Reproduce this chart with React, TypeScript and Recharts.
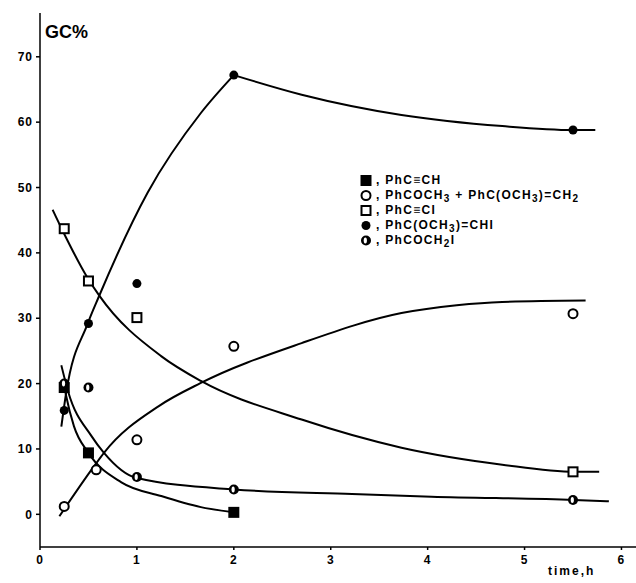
import React from 'react';
import { ComposedChart, Line, Scatter, XAxis, YAxis } from 'recharts';

// measured points (time h, GC %)
const alkynePts = [
  { t: 0.25, v: 19.4 },
  { t: 0.5, v: 9.4 },
  { t: 2, v: 0.3 },
];
const ketonePts = [
  { t: 0.25, v: 1.2 },
  { t: 0.58, v: 6.8 },
  { t: 1, v: 11.4 },
  { t: 2, v: 25.7 },
  { t: 5.5, v: 30.7 },
];
const iodoalkynePts = [
  { t: 0.25, v: 43.7 },
  { t: 0.5, v: 35.7 },
  { t: 1, v: 30.1 },
  { t: 5.5, v: 6.5 },
];
const vinylPts = [
  { t: 0.25, v: 15.9 },
  { t: 0.5, v: 29.2 },
  { t: 1, v: 35.3 },
  { t: 2, v: 67.2 },
  { t: 5.5, v: 58.8 },
];
const iodoketonePts = [
  { t: 0.25, v: 20 },
  { t: 0.5, v: 19.4 },
  { t: 1, v: 5.7 },
  { t: 2, v: 3.8 },
  { t: 5.5, v: 2.2 },
];

// hand-drawn fitted curves
const alkyneCurve = [
  { t: 0.24, v: 20.5 },
  { t: 0.27, v: 18.1 },
  { t: 0.35, v: 13.5 },
  { t: 0.5, v: 9.4 },
  { t: 0.84, v: 4.9 },
  { t: 1.25, v: 2.8 },
  { t: 1.66, v: 1.1 },
  { t: 2.0, v: 0.3 },
];
const ketoneCurve = [
  { t: 0.2, v: -0.3 },
  { t: 0.56, v: 7.4 },
  { t: 0.66, v: 9.4 },
  { t: 1.23, v: 16.6 },
  { t: 1.66, v: 20.1 },
  { t: 2.7, v: 26.2 },
  { t: 3.73, v: 30.8 },
  { t: 4.3, v: 32.0 },
  { t: 4.77, v: 32.5 },
  { t: 5.63, v: 32.7 },
];
const iodoalkyneCurve = [
  { t: 0.13, v: 46.6 },
  { t: 0.24, v: 43.2 },
  { t: 0.49, v: 36.2 },
  { t: 0.61, v: 33.5 },
  { t: 1.25, v: 24.2 },
  { t: 1.66, v: 20.4 },
  { t: 2.7, v: 14.5 },
  { t: 3.73, v: 10.2 },
  { t: 4.77, v: 7.6 },
  { t: 5.52, v: 6.5 },
  { t: 5.77, v: 6.5 },
];
const vinylRise = [
  { t: 0.22, v: 13.4 },
  { t: 0.27, v: 18.6 },
  { t: 0.49, v: 29.1 },
  { t: 0.61, v: 33.4 },
  { t: 1.11, v: 49.2 },
  { t: 1.66, v: 61.4 },
  { t: 2.0, v: 67.2 },
];
const vinylFall = [
  { t: 2.0, v: 67.2 },
  { t: 2.7, v: 64.2 },
  { t: 3.73, v: 61.1 },
  { t: 4.77, v: 59.4 },
  { t: 5.5, v: 58.8 },
  { t: 5.73, v: 58.8 },
];
const iodoketoneCurve = [
  { t: 0.22, v: 22.8 },
  { t: 0.29, v: 18.8 },
  { t: 0.53, v: 12.0 },
  { t: 0.66, v: 9.4 },
  { t: 0.99, v: 5.6 },
  { t: 2.0, v: 3.8 },
  { t: 3.22, v: 3.1 },
  { t: 4.04, v: 2.7 },
  { t: 5.51, v: 2.2 },
  { t: 5.87, v: 2.0 },
];

const xTicks = [0, 1, 2, 3, 4, 5, 6];
const yTicks = [0, 10, 20, 30, 40, 50, 60, 70];

const tickStyle = { fill: '#000', fontSize: 12, fontWeight: 700, fontFamily: 'Liberation Sans, Arial, sans-serif', letterSpacing: 1 };

const Marker = ({ cx, cy, kind }: any) => {
  if (cx == null || cy == null) return null;
  switch (kind) {
    case 'fsquare':
      return <rect x={cx - 5.5} y={cy - 5.5} width={11} height={11} fill="#000" />;
    case 'osquare':
      return <rect x={cx - 4.5} y={cy - 4.5} width={9} height={9} fill="#fff" stroke="#000" strokeWidth={2} />;
    case 'ocircle':
      return <circle cx={cx} cy={cy} r={4.5} fill="#fff" stroke="#000" strokeWidth={2} />;
    case 'fcircle':
      return <circle cx={cx} cy={cy} r={4.5} fill="#000" />;
    case 'half':
      return (
        <g>
          <circle cx={cx} cy={cy} r={5} fill="#000" />
          <ellipse cx={cx - 0.7} cy={cy} rx={1.6} ry={3} fill="#fff" />
        </g>
      );
    default:
      return null;
  }
};

const LegendIcon = ({ kind }: { kind: string }) => (
  <svg width={14} height={13} style={{ verticalAlign: 'middle' }}>
    <Marker cx={7} cy={6.5} kind={kind} />
  </svg>
);

const legendRows = [
  { kind: 'fsquare', label: <>PhC≡CH</> },
  { kind: 'ocircle', label: <>PhCOCH<sub>3</sub> + PhC(OCH<sub>3</sub>)=CH<sub>2</sub></> },
  { kind: 'osquare', label: <>PhC≡CI</> },
  { kind: 'fcircle', label: <>PhC(OCH<sub>3</sub>)=CHI</> },
  { kind: 'half', label: <>PhCOCH<sub>2</sub>I</> },
];

const curveProps = {
  dataKey: 'v',
  type: 'monotone' as const,
  stroke: '#000',
  strokeWidth: 2,
  dot: false,
  activeDot: false,
  isAnimationActive: false,
  legendType: 'none' as const,
};

export default function App() {
  return (
    <div style={styles.page}>
      <ComposedChart width={636} height={583} margin={{ top: 13, right: 0, bottom: 0, left: 0 }}>
        <XAxis
          type="number"
          dataKey="t"
          domain={[0, 6.15]}
          ticks={xTicks}
          height={36}
          tickSize={3}
          tickMargin={5}
          tick={tickStyle}
          stroke="#000"
          strokeWidth={1.5}
          allowDataOverflow
        />
        <YAxis
          type="number"
          dataKey="v"
          domain={[-5, 76.7]}
          ticks={yTicks}
          width={40}
          tickSize={4}
          tickMargin={3}
          tick={tickStyle}
          stroke="#000"
          strokeWidth={1.5}
          allowDataOverflow
        />
        <Line data={alkyneCurve} {...curveProps} />
        <Line data={ketoneCurve} {...curveProps} />
        <Line data={iodoalkyneCurve} {...curveProps} />
        <Line data={vinylRise} {...curveProps} />
        <Line data={vinylFall} {...curveProps} />
        <Line data={iodoketoneCurve} {...curveProps} />
        <Scatter data={alkynePts} dataKey="v" shape={<Marker kind="fsquare" />} isAnimationActive={false} legendType="none" />
        <Scatter data={ketonePts} dataKey="v" shape={<Marker kind="ocircle" />} isAnimationActive={false} legendType="none" />
        <Scatter data={iodoalkynePts} dataKey="v" shape={<Marker kind="osquare" />} isAnimationActive={false} legendType="none" />
        <Scatter data={vinylPts} dataKey="v" shape={<Marker kind="fcircle" />} isAnimationActive={false} legendType="none" />
        <Scatter data={iodoketonePts} dataKey="v" shape={<Marker kind="half" />} isAnimationActive={false} legendType="none" />
      </ComposedChart>

      {/* legend, inside the plot at upper right */}
      <div style={styles.legend}>
        {legendRows.map((r, i) => (
          <div key={i} style={styles.legendRow}>
            <LegendIcon kind={r.kind} />
            <span style={{ marginLeft: 3 }}>, {r.label}</span>
          </div>
        ))}
      </div>

      <div style={styles.yTitle}>GC%</div>
      <div style={styles.xTitle}>time,h</div>
    </div>
  );
}

const styles: Record<string, React.CSSProperties> = {
  page: {
    position: 'absolute',
    left: 0,
    top: 0,
    width: 636,
    height: 583,
    background: '#fff',
    fontFamily: 'Liberation Sans, Arial, sans-serif',
  },
  yTitle: {
    position: 'absolute',
    left: 45,
    top: 22,
    fontSize: 18,
    fontWeight: 700,
  },
  xTitle: {
    position: 'absolute',
    left: 548,
    top: 564,
    fontSize: 12,
    fontWeight: 700,
    letterSpacing: 2,
  },
  legend: {
    position: 'absolute',
    left: 359,
    top: 173,
    fontSize: 12,
    fontWeight: 700,
    letterSpacing: 1.3,
    lineHeight: '15px',
    color: '#000',
  },
  legendRow: {
    whiteSpace: 'nowrap',
    height: 15,
  },
};
